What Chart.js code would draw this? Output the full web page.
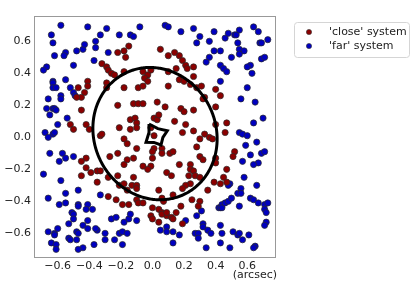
<!DOCTYPE html>
<html><head><meta charset="utf-8">
<script src="https://cdn.jsdelivr.net/npm/chart.js@4/dist/chart.umd.min.js"></script>
<style>html,body{margin:0;padding:0;background:#fff}#wrap{width:415px;height:288px}</style>
</head><body><div id="wrap"><canvas id="c" width="415" height="288"></canvas></div>
<script>
const seriesNames = ["'close' system", "'far' system"];
const closePts = [
[-0.22,0.53],[-0.18,0.54],[-0.17,0.50],[-0.15,0.57],[-0.32,0.46],[-0.29,0.44],[-0.28,0.42],[-0.26,0.40],[-0.24,0.39],[-0.18,0.41],
[-0.29,0.34],[-0.29,0.31],[-0.41,0.35],[-0.41,0.32],[-0.47,0.31],[-0.43,0.28],[-0.45,0.25],[-0.48,0.25],[-0.18,0.31],[-0.09,0.31],
[0.05,0.55],[0.10,0.51],[0.14,0.53],[0.17,0.51],[0.19,0.48],[0.21,0.45],[0.22,0.43],[0.26,0.44],[0.15,0.43],[0.10,0.41],
[0.26,0.38],[-0.06,0.41],[-0.01,0.42],[-0.03,0.39],[-0.05,0.37],[-0.03,0.35],[-0.06,0.32],[0.10,0.32],[0.17,0.36],[0.20,0.35],
[0.24,0.33],[0.28,0.31],[0.31,0.32],[0.33,0.25],[0.40,0.30],[0.43,0.26],
[-0.45,0.17],[-0.52,0.08],[-0.50,0.05],[-0.42,0.08],[-0.40,0.05],[-0.33,0.01],[-0.32,0.02],[-0.21,0.06],[-0.14,0.11],[-0.11,0.12],
[-0.10,0.09],[-0.14,0.05],[-0.12,0.21],[-0.09,0.21],[-0.06,0.21],[-0.22,0.20],[-0.18,-0.01],[-0.16,-0.04],[-0.10,-0.07],[-0.27,-0.12],
[-0.22,-0.10],[-0.18,-0.17],[-0.16,-0.14],[-0.12,-0.13],[-0.42,-0.13],[-0.45,-0.15],[-0.42,-0.19],[-0.39,-0.22],[-0.45,-0.24],[-0.35,-0.21],
[-0.33,-0.21],[-0.28,-0.25],[-0.35,-0.28],[-0.22,-0.24],[-0.12,-0.25],[-0.21,-0.30],[-0.18,-0.29],[-0.13,-0.30],[-0.10,-0.30],[-0.16,-0.33],
[0.03,0.22],[0.08,0.19],[0.18,0.18],[0.20,0.16],[0.26,0.17],[0.32,0.24],[0.40,0.19],[-0.10,0.06],[0.01,0.12],[0.03,0.11],
[0.04,0.14],[0.14,0.10],[0.21,0.08],[0.19,0.03],[0.26,0.04],[0.33,0.02],[0.36,0.00],[0.38,-0.01],[0.30,-0.01],[0.40,0.08],
[0.47,0.09],[0.46,0.03],[-0.01,0.06],[0.01,0.01],[0.01,-0.07],[0.00,-0.09],[0.06,-0.07],[0.06,-0.10],[0.11,-0.10],[0.13,-0.09],
[0.00,-0.13],[0.28,-0.06],[0.30,-0.12],[0.32,-0.14],[0.17,-0.17],[0.24,-0.17],[-0.06,-0.18],[-0.01,-0.18],[-0.03,-0.20],[0.24,-0.20],
[0.26,-0.21],[0.23,-0.24],[0.27,-0.24],[0.30,-0.25],[0.09,-0.22],[0.12,-0.24],[0.40,-0.13],[0.40,-0.16],[0.47,-0.20],[0.45,-0.25],
[0.39,-0.28],[0.43,-0.29],[0.47,-0.28],[0.24,-0.29],[0.21,-0.30],[0.19,-0.32],[0.35,-0.33],[0.04,-0.33],[0.52,-0.09],[0.51,-0.12],
[-0.10,-0.32],
[-0.28,-0.37],[-0.23,-0.39],[-0.19,-0.42],[-0.15,-0.42],[-0.10,-0.39],[-0.09,-0.41],[-0.06,-0.41],[0.00,-0.44],[-0.01,-0.49],[0.00,-0.51],
[0.04,-0.45],[0.06,-0.47],[0.09,-0.49],[0.06,-0.48],[0.12,-0.50],[0.13,-0.51],[0.09,-0.47],[0.15,-0.47],[0.04,-0.53],[0.18,-0.43],
[0.25,-0.39],[0.30,-0.40],[0.29,-0.43],[0.19,-0.54],[0.13,-0.36],[0.06,-0.38],[0.07,-0.40]
];
const farPts = [
[-0.58,0.70],[-0.41,0.69],[-0.64,0.64],[-0.63,0.59],[-0.62,0.51],[-0.55,0.53],[-0.56,0.51],[-0.48,0.54],[-0.44,0.55],[-0.43,0.58],
[-0.36,0.60],[-0.33,0.64],[-0.29,0.68],[-0.21,0.64],[-0.14,0.64],[-0.12,0.63],[-0.08,0.69],[-0.36,0.56],[-0.28,0.53],[-0.37,0.48],
[-0.50,0.45],[-0.67,0.44],[-0.69,0.42],[-0.63,0.35],[-0.63,0.34],[-0.55,0.36],[-0.63,0.31],[-0.61,0.31],[-0.52,0.31],[-0.58,0.26],
[-0.58,0.24],[-0.66,0.24],[-0.50,0.28],[-0.49,0.26],
[0.08,0.70],[0.10,0.69],[0.18,0.66],[0.26,0.68],[0.30,0.63],[0.28,0.59],[0.36,0.60],[0.39,0.66],[0.46,0.62],[0.48,0.65],
[0.52,0.64],[0.53,0.64],[0.55,0.67],[0.54,0.59],[0.55,0.55],[0.58,0.54],[0.55,0.52],[0.64,0.69],[0.67,0.66],[0.68,0.59],
[0.69,0.59],[0.73,0.61],[0.39,0.54],[0.43,0.54],[0.36,0.50],[0.34,0.47],[0.50,0.50],[0.69,0.49],[0.71,0.50],[0.62,0.45],
[0.60,0.44],[0.63,0.40],[0.43,0.45],[0.45,0.43],[0.47,0.41],[0.43,0.35],[0.60,0.31],[0.56,0.24],
[-0.67,0.18],[-0.63,0.18],[-0.62,0.18],[-0.65,0.14],[-0.61,0.17],[-0.54,0.12],[-0.60,0.08],[-0.68,0.03],[-0.63,0.02],[-0.62,0.03],
[-0.66,0.00],[-0.65,-0.10],[-0.57,-0.10],[-0.59,-0.15],[-0.55,-0.13],[-0.50,-0.12],[-0.69,-0.23],[-0.58,-0.27],[-0.55,-0.35],[-0.47,-0.33],
[-0.33,-0.36],
[0.65,0.22],[0.70,0.12],[0.64,0.09],[0.55,0.03],[0.57,0.02],[0.60,0.01],[0.66,-0.03],[0.59,-0.05],[0.62,-0.11],[0.57,-0.15],
[0.67,-0.16],[0.64,-0.17],[0.69,-0.10],[0.71,-0.09],[0.58,-0.25],[0.49,-0.29],[0.48,-0.30],[0.66,-0.30],[0.56,-0.32],[0.54,-0.35],
[0.56,-0.35],
[-0.66,-0.38],[-0.55,-0.41],[-0.59,-0.42],[-0.47,-0.42],[-0.47,-0.43],[-0.41,-0.42],[-0.42,-0.45],[-0.51,-0.47],[-0.50,-0.48],[-0.38,-0.45],
[-0.50,-0.51],[-0.41,-0.52],[-0.53,-0.54],[-0.44,-0.55],[-0.26,-0.51],[-0.23,-0.50],[-0.18,-0.53],[-0.15,-0.51],[-0.10,-0.52],[-0.66,-0.59],
[-0.62,-0.60],[-0.60,-0.57],[-0.62,-0.61],[-0.48,-0.59],[-0.47,-0.60],[-0.41,-0.57],[-0.35,-0.58],[-0.36,-0.57],[-0.30,-0.60],[-0.21,-0.60],
[-0.19,-0.59],[-0.16,-0.60],[-0.53,-0.63],[-0.52,-0.64],[-0.48,-0.64],[-0.64,-0.66],[-0.61,-0.67],[-0.61,-0.70],[-0.37,-0.67],[-0.30,-0.64],
[-0.24,-0.64],[-0.19,-0.67],[-0.44,-0.69],[-0.47,-0.70],[-0.14,-0.48],
[0.05,-0.58],[0.09,-0.56],[0.09,-0.59],[0.13,-0.59],[0.17,-0.61],[0.13,-0.66],[0.21,-0.52],[0.27,-0.60],[0.29,-0.60],[0.29,-0.63],
[0.28,-0.49],[0.31,-0.46],[0.32,-0.54],[0.32,-0.56],[0.35,-0.58],[0.37,-0.60],[0.34,-0.69],[0.43,-0.55],[0.44,-0.60],[0.43,-0.66],
[0.49,-0.69],[0.51,-0.59],[0.54,-0.61],[0.55,-0.60],[0.57,-0.64],[0.42,-0.44],[0.43,-0.44],[0.44,-0.42],[0.44,-0.44],[0.46,-0.41],
[0.48,-0.40],[0.50,-0.38],[0.55,-0.43],[0.62,-0.38],[0.64,-0.39],[0.67,-0.41],[0.71,-0.42],[0.73,-0.41],[0.71,-0.45],[0.72,-0.47],
[0.72,-0.53],[0.71,-0.55],[0.61,-0.61],[0.65,-0.68],[0.64,-0.69]
];
const causticX = [-0.022, 0.034, 0.094, 0.066, 0.054, 0.009, -0.041, -0.024, -0.022];
const causticY = [0.083, 0.054, 0.041, -0.001, -0.048, -0.032, -0.031, 0.024, 0.083];
// ellipse: centre x, centre y, semi-major, semi-minor, angle (deg)
const ellipseParams = [0.016, 0.023, 0.422, 0.384, -61];
const xTicks = [-0.6, -0.4, -0.2, 0, 0.2, 0.4, 0.6];
const yTicks = [-0.6, -0.4, -0.2, 0, 0.2, 0.4, 0.6];
const xRange = [-0.75, 0.782];
const yRange = [-0.754, 0.758];
const axisUnit = '(arcsec)';
const colors = ['#8b0000', '#0000c0'];

const FONT = 'DejaVu Sans';
const fmt = v => (v < -1e-9 ? '\u2212' : '') + Math.abs(v).toFixed(1);

const framePlugin = {
  id: 'frame',
  afterDatasetsDraw(chart) {
    const {ctx, scales: {x, y}} = chart;
    const [cx, cy, ra, rb, ang] = ellipseParams;
    const th = ang * Math.PI / 180;
    ctx.save();
    ctx.beginPath();
    for (let i = 0; i <= 360; i++) {
      const t = i * Math.PI / 180;
      const dx = ra * Math.cos(t) * Math.cos(th) - rb * Math.sin(t) * Math.sin(th);
      const dy = ra * Math.cos(t) * Math.sin(th) + rb * Math.sin(t) * Math.cos(th);
      const px = x.getPixelForValue(cx + dx), py = y.getPixelForValue(cy + dy);
      if (i === 0) ctx.moveTo(px, py); else ctx.lineTo(px, py);
    }
    ctx.closePath();
    ctx.lineWidth = 3;
    ctx.strokeStyle = '#000';
    ctx.stroke();
    ctx.restore();
  },
  afterDraw(chart) {
    const {ctx, chartArea: a} = chart;
    ctx.save();
    ctx.strokeStyle = '#999';
    ctx.lineWidth = 1;
    ctx.strokeRect(Math.round(a.left) + 0.5, Math.round(a.top) + 0.5, Math.round(a.right - a.left) - 1, Math.round(a.bottom - a.top) - 1);
    ctx.fillStyle = '#222';
    ctx.font = '11px "' + FONT + '"';
    ctx.textAlign = 'right';
    ctx.textBaseline = 'middle';
    ctx.fillText(axisUnit, a.right + 1, 275);
    const lx = 294, ly = 22, lw = 115, lh = 35;
    ctx.beginPath();
    ctx.roundRect(lx + 0.5, ly + 0.5, lw, lh, 3);
    ctx.fillStyle = 'rgba(255,255,255,0.8)';
    ctx.fill();
    ctx.strokeStyle = '#d5d5d5';
    ctx.stroke();
    chart.data.datasets.slice(0, 2).forEach((ds, i) => {
      const yy = ly + 10 + i * 14;
      ctx.beginPath();
      ctx.arc(309, yy, 2.6, 0, Math.PI * 2);
      ctx.fillStyle = ds.backgroundColor;
      ctx.fill();
      ctx.lineWidth = 0.6;
      ctx.strokeStyle = '#333';
      ctx.stroke();
      ctx.fillStyle = '#222';
      ctx.textAlign = 'left';
      ctx.fillText(ds.label, 329, yy);
    });
    ctx.restore();
  }
};

new Chart(document.getElementById('c'), {
  type: 'scatter',
  data: {
    datasets: [
      {label: seriesNames[0], data: closePts.map(p => ({x: p[0], y: p[1]})), backgroundColor: colors[0], borderColor: '#2a2a2a', borderWidth: 0.7, pointRadius: 3.1, order: 2},
      {label: seriesNames[1], data: farPts.map(p => ({x: p[0], y: p[1]})), backgroundColor: colors[1], borderColor: '#2a2a2a', borderWidth: 0.7, pointRadius: 3.1, order: 3},
      {label: 'caustic', data: causticX.map((v, i) => ({x: v, y: causticY[i]})), showLine: true, borderColor: '#000', borderWidth: 3, pointRadius: 0, fill: false, borderJoinStyle: 'miter', order: 1}
    ]
  },
  options: {
    responsive: false,
    animation: false,
    devicePixelRatio: 1,
    layout: {padding: {left: 0, top: 16, right: 139, bottom: 0}},
    plugins: {legend: {display: false}, tooltip: {enabled: false}},
    scales: {
      x: {
        type: 'linear', min: xRange[0], max: xRange[1],
        grid: {display: false, drawTicks: false},
        border: {display: false},
        afterBuildTicks: s => { s.ticks = xTicks.map(v => ({value: v})); },
        afterFit: s => { s.height = 30; },
        ticks: {padding: 2, color: '#222', font: {family: FONT, size: 11}, callback: v => fmt(v), maxRotation: 0, autoSkip: false}
      },
      y: {
        type: 'linear', min: yRange[0], max: yRange[1],
        grid: {display: false, drawTicks: false},
        border: {display: false},
        afterBuildTicks: s => { s.ticks = yTicks.map(v => ({value: v})); },
        afterFit: s => { s.width = 34; },
        ticks: {padding: 3, color: '#222', font: {family: FONT, size: 11}, callback: v => fmt(v), autoSkip: false}
      }
    }
  },
  plugins: [framePlugin]
});
</script>
</body></html>
